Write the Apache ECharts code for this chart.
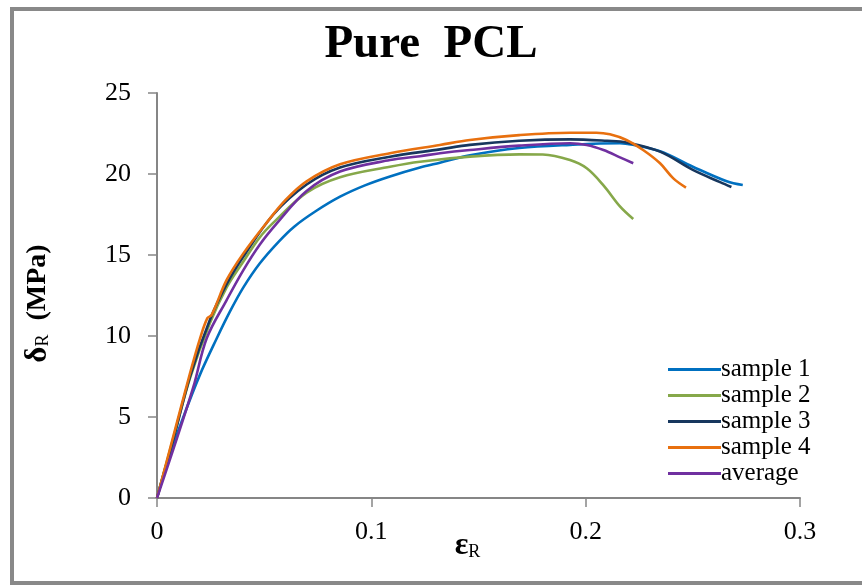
<!DOCTYPE html>
<html>
<head>
<meta charset="utf-8">
<script src="https://cdn.jsdelivr.net/npm/echarts@6/dist/echarts.min.js"></script>
<style>html,body{margin:0;padding:0;background:#fff}#c{width:862px;height:586px}</style>
</head>
<body>
<div id="c"></div>
<script>
const titleText = 'Pure  PCL';
const seriesNames = ['sample 1', 'sample 2', 'sample 3', 'sample 4', 'average'];
const xTicks = [0, 0.1, 0.2, 0.3];
const yTicks = [0, 5, 10, 15, 20, 25];

const sample1 = [[0,0],[0.0045,2.1],[0.0123,5.0],[0.02,7.6],[0.0279,9.86],[0.034,11.5],[0.0403,13.0],[0.048,14.49],[0.0566,15.8],[0.064,16.75],[0.074,17.7],[0.0854,18.6],[0.097,19.3],[0.1087,19.85],[0.1227,20.4],[0.132,20.7],[0.146,21.15],[0.169,21.6],[0.1927,21.8],[0.216,21.9],[0.222,21.8],[0.2347,21.4],[0.25,20.45],[0.2658,19.55],[0.2733,19.32]];
const sample2 = [[0,0],[0.0076,3.7],[0.0154,7.4],[0.0247,10.8],[0.0325,13.0],[0.0403,14.6],[0.048,16.1],[0.0543,17.0],[0.0698,18.85],[0.0854,19.8],[0.1087,20.45],[0.1227,20.76],[0.146,21.07],[0.169,21.21],[0.18,21.2],[0.1927,20.86],[0.2005,20.35],[0.2083,19.3],[0.216,18.0],[0.2222,17.22]];
const sample3 = [[0,0],[0.0076,3.6],[0.0154,7.5],[0.0247,11.0],[0.0325,13.2],[0.0403,14.9],[0.0543,17.5],[0.0698,19.35],[0.0854,20.4],[0.1087,21.07],[0.132,21.52],[0.146,21.8],[0.169,22.05],[0.1927,22.14],[0.21,22.05],[0.219,21.95],[0.2347,21.38],[0.25,20.25],[0.2627,19.5],[0.268,19.2]];
const sample4 = [[0,0],[0.0076,3.8],[0.0154,7.7],[0.0201,9.86],[0.0235,11.1],[0.0255,11.3],[0.0325,13.46],[0.0403,15.1],[0.0512,17.0],[0.06,18.4],[0.0698,19.55],[0.0854,20.6],[0.1087,21.28],[0.132,21.79],[0.146,22.1],[0.169,22.4],[0.1927,22.55],[0.205,22.55],[0.2113,22.45],[0.219,22.1],[0.2268,21.48],[0.2347,20.66],[0.2409,19.73],[0.2468,19.16]];
const average = [[0,0],[0.0076,3.0],[0.017,6.87],[0.0232,9.86],[0.0325,12.22],[0.0403,14.07],[0.048,15.65],[0.0559,16.95],[0.0698,18.95],[0.0854,20.15],[0.1087,20.86],[0.1227,21.1],[0.132,21.28],[0.146,21.48],[0.169,21.75],[0.1927,21.9],[0.2005,21.79],[0.2083,21.48],[0.216,21.03],[0.2222,20.66]];

const colors = ['#0070C0', '#86A84A', '#17375E', '#E8700F', '#7030A0'];
const allData = [sample1, sample2, sample3, sample4, average];
const serif = '"Liberation Serif", "Times New Roman", serif';

const chart = echarts.init(document.getElementById('c'));
chart.setOption({
  animation: false,
  backgroundColor: '#fff',
  title: {
    text: titleText, left: 'center', top: 16,
    textStyle: { fontFamily: serif, fontWeight: 'bold', fontSize: 47, color: '#000' }
  },
  grid: { left: 157, right: 62, top: 93, bottom: 88, containLabel: false },
  legend: {
    orient: 'vertical', left: 663, top: 352,
    icon: 'rect', itemWidth: 53, itemHeight: 3, itemGap: 1,
    textStyle: { fontFamily: serif, fontSize: 25, color: '#000', padding: [0, 0, 0, -5] },
    data: seriesNames
  },
  xAxis: {
    type: 'value', min: 0, max: 0.3, interval: 0.1,
    name: '{e|ε}{s|R}', nameLocation: 'middle', nameGap: 32, nameMoveOverlap: false,
    nameTextStyle: { padding: [0, 22, 0, 0], rich: {
      e: { fontFamily: serif, fontWeight: 'bold', fontSize: 32, color: '#000' },
      s: { fontFamily: serif, fontSize: 18, color: '#000', padding: [12, 0, 0, 0] }
    } },
    axisLine: { show: true, lineStyle: { color: '#868686', width: 2 } },
    axisTick: { show: true, length: 9, lineStyle: { color: '#868686', width: 1.5 } },
    splitLine: { show: false },
    axisLabel: { fontFamily: serif, fontSize: 26, color: '#000', margin: 21,
      formatter: v => xTicks.find(t => Math.abs(t - v) < 1e-9) !== undefined ? String(+v.toFixed(1)) : '' }
  },
  yAxis: {
    type: 'value', min: 0, max: 25, interval: 5,
    name: '{d|δ}{s|R}{g|  (MPa)}', nameLocation: 'middle', nameGap: 104, nameRotate: 90,
    nameTextStyle: { padding: [0, 16, 0, 0], rich: {
      d: { fontFamily: serif, fontWeight: 'bold', fontSize: 31, color: '#000' },
      s: { fontFamily: serif, fontSize: 18, color: '#000', padding: [12, 0, 0, 0] },
      g: { fontFamily: serif, fontWeight: 'bold', fontSize: 28, color: '#000' }
    } },
    axisLine: { show: true, lineStyle: { color: '#868686', width: 2 } },
    axisTick: { show: true, length: 9, lineStyle: { color: '#868686', width: 1.5 } },
    splitLine: { show: false },
    axisLabel: { fontFamily: serif, fontSize: 26, color: '#000', margin: 26,
      formatter: v => yTicks.includes(v) ? String(v) : '' }
  },
  series: seriesNames.map((n, i) => ({
    name: n, type: 'line', data: allData[i], symbol: 'none', smooth: 0.35,
    lineStyle: { color: colors[i], width: 2.6 }, itemStyle: { color: colors[i] }
  })),
  graphic: [{
    type: 'rect', silent: true, z: 100,
    shape: { x: 12, y: 9, width: 900, height: 574 },
    style: { fill: 'none', stroke: '#898989', lineWidth: 4 }
  }]
});
</script>
</body>
</html>
